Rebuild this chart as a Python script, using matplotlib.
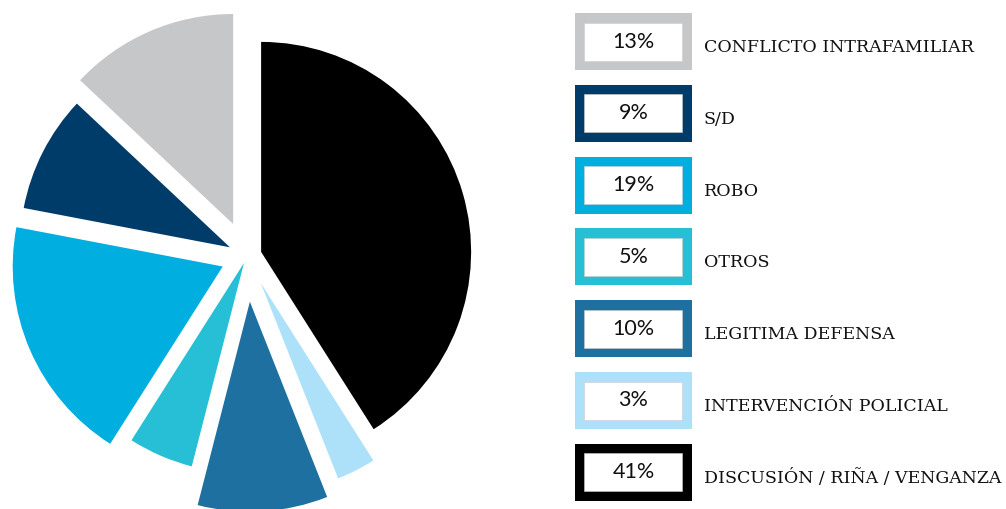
import matplotlib
matplotlib.use('Agg')
import matplotlib.pyplot as plt
from matplotlib.patches import Rectangle

# data, in clockwise order from the top of the pie
categories = ['DISCUSIÓN / RIÑA / VENGANZA', 'INTERVENCIÓN POLICIAL', 'LEGITIMA DEFENSA',
              'OTROS', 'ROBO', 'S/D', 'CONFLICTO INTRAFAMILIAR']
percent = [41, 3, 10, 5, 19, 9, 13]

colors = ['#000000', '#ade1fa', '#1d70a0', '#26bfd6', '#00aee0', '#003c69', '#c6c7c9']
explode = [0.070, 0.145, 0.218, 0.036, 0.126, 0.091, 0.166]

W, H = 1006, 509
fig = plt.figure(figsize=(W / 100, H / 100), dpi=100)

# pie axes: 1 data unit = 210 px, pie centre at (247, 256) px
R = 210.0
cx, cy = 247.0, 256.0
ax = fig.add_axes([0, 0, 1, 1])
ax.pie(percent, colors=colors, explode=explode, startangle=90, counterclock=False,
       radius=1.0, wedgeprops=dict(linewidth=0))
ax.set_xlim(-cx / R, (W - cx) / R)
ax.set_ylim(-(H - cy) / R, cy / R)
ax.set_aspect('auto')
ax.axis('off')

# legend axes in pixel coords
lax = fig.add_axes([0, 0, 1, 1])
lax.set_xlim(0, W)
lax.set_ylim(H, 0)
lax.axis('off')
lax.patch.set_alpha(0)

x0, y0, bw, bh, step, border = 575, 13, 117, 57, 71.8, 9.5
for i, k in enumerate(reversed(range(len(percent)))):
    y = y0 + step * i
    lax.add_patch(Rectangle((x0, y), bw, bh, facecolor=colors[k], edgecolor='none'))
    lax.add_patch(Rectangle((x0 + border, y + border), bw - 2 * border, bh - 2 * border,
                            facecolor='white', edgecolor='#cccccc', linewidth=0.4))
    lax.text(x0 + bw / 2, y + bh / 2, '%d%%' % percent[k], ha='center', va='center',
             fontsize=15.5, family='Lato', color='#111111')
    lax.text(704, y + bh / 2 + 6, categories[k], ha='left', va='center',
             fontsize=12.5, family='DejaVu Serif', color='#111111')

plt.savefig('out.png', dpi=100)
